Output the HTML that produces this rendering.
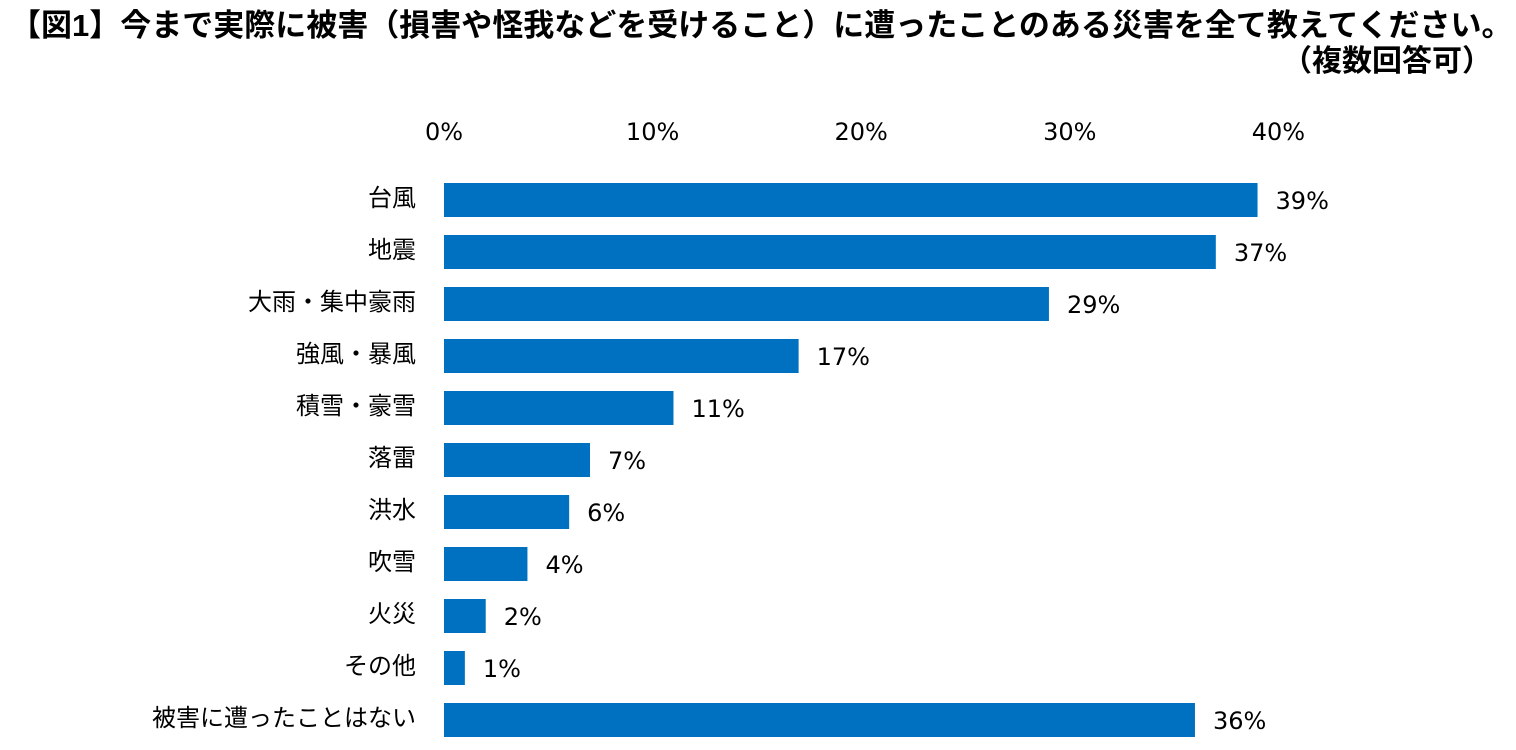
<!DOCTYPE html>
<html lang="ja">
<head>
<meta charset="utf-8">
<style>
  html,body{margin:0;padding:0;background:#fff;}
  body{width:1516px;height:750px;overflow:hidden;position:relative;
    font-family:"Liberation Sans","Noto Sans CJK JP",sans-serif;color:#000;}
  .title{position:absolute;left:10px;top:6px;font-size:31px;line-height:40px;font-weight:bold;white-space:nowrap;}
  .title2{position:absolute;right:24px;top:42px;font-size:30px;line-height:40px;font-weight:bold;white-space:nowrap;}
  svg{position:absolute;left:0;top:0;}
  svg text{font-family:"Noto Sans CJK JP",sans-serif;font-size:24px;fill:#000;}
  svg text.num{font-family:"DejaVu Sans","Liberation Sans",sans-serif;font-size:24px;}
</style>
</head>
<body>
<div class="title">【図1】今まで実際に被害（損害や怪我などを受けること）に遭ったことのある災害を全て教えてください。</div>
<div class="title2">（複数回答可）</div>
<svg id="chart" width="1516" height="750"></svg>
<script>
const categories = ["台風","地震","大雨・集中豪雨","強風・暴風","積雪・豪雪","落雷","洪水","吹雪","火災","その他","被害に遭ったことはない"];
const values = [39,37,29,17,11,7,6,4,2,1,36];
const tickValues = [0,10,20,30,40];
const tickLabels = ["0%","10%","20%","30%","40%"];

const NS = "http://www.w3.org/2000/svg";
const svg = document.getElementById("chart");
const x0 = 444, pxPerPct = 20.86;
function xScale(v){ return x0 + v * pxPerPct; }
const rowTop = 183, rowStep = 52, barH = 34;
function yRow(i){ return rowTop + i * rowStep; }

tickValues.forEach((t, i) => {
  const tx = document.createElementNS(NS, "text");
  tx.setAttribute("x", xScale(t));
  tx.setAttribute("y", 140);
  tx.setAttribute("text-anchor", "middle");
  tx.setAttribute("class", "num");
  tx.textContent = tickLabels[i];
  
  
  svg.appendChild(tx);
});

categories.forEach((c, i) => {
  const y = yRow(i);
  const r = document.createElementNS(NS, "rect");
  r.setAttribute("x", xScale(0));
  r.setAttribute("y", y);
  r.setAttribute("width", xScale(values[i]) - xScale(0));
  r.setAttribute("height", barH);
  r.setAttribute("fill", "#0070C0");
  
  
  svg.appendChild(r);

  const lab = document.createElementNS(NS, "text");
  lab.setAttribute("x", 416);
  lab.setAttribute("y", y + 23);
  lab.setAttribute("text-anchor", "end");
  lab.textContent = c;
  
  
  svg.appendChild(lab);

  const v = document.createElementNS(NS, "text");
  v.setAttribute("x", xScale(values[i]) + 18);
  v.setAttribute("y", y + 26);
  v.setAttribute("class", "num");
  v.textContent = values[i] + "%";
  
  
  svg.appendChild(v);
});
</script>
</body>
</html>
